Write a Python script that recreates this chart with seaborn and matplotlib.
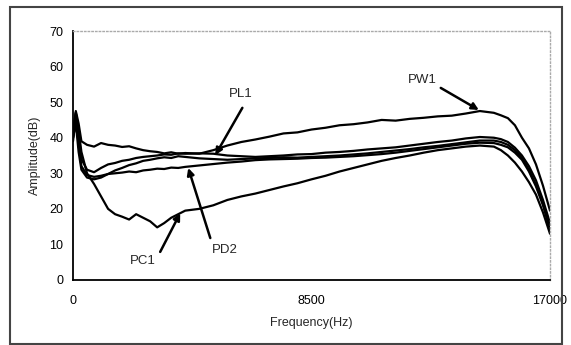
import matplotlib
matplotlib.use("Agg")
from matplotlib import pyplot as plt
from matplotlib.patches import Rectangle
import seaborn as sns

import numpy as np
import pandas as pd

# frequency grid (Hz)
freq = [0, 100, 200, 300, 500, 750,
        1000, 1250, 1500, 1750, 2000, 2250, 2500, 2750, 3000, 3250, 3500, 3750, 4000,
        4500, 5000, 5500, 6000, 6500, 7000, 7500, 8000, 8500, 9000, 9500, 10000,
        10500, 11000, 11500, 12000, 12500, 13000, 13500, 14000, 14500, 15000,
        15250, 15500, 15750, 16000, 16250, 16500, 16750, 17000]

# amplitude (dB) of each recording
pw1 = [41, 47.5, 44, 39, 38, 37.5,
       38.5, 38, 37.8, 37.4, 37.6, 37, 36.5, 36.2, 36, 35.6, 35.9, 35.5, 35.7,
       35.5, 36.5, 37.8, 38.8, 39.5, 40.3, 41.2, 41.5, 42.3, 42.8, 43.5, 43.8,
       44.3, 45, 44.8, 45.3, 45.6, 46, 46.2, 46.8, 47.5, 47,
       46.3, 45.5, 43.5, 40, 37, 32.5, 26.5, 19.5]
pl1 = [42, 47, 41, 34, 31, 30.3,
       31.5, 32.5, 32.9, 33.5, 33.8, 34.3, 34.6, 34.8, 35, 35.3, 35.2, 35.6, 35.5,
       35.6, 35.5, 35, 34.8, 34.6, 34.8, 35, 35.3, 35.4, 35.8, 36, 36.3,
       36.7, 37, 37.3, 37.8, 38.3, 38.8, 39.2, 39.8, 40.2, 40,
       39.6, 38.8, 37.2, 35, 32, 28, 22.5, 16]
pd2 = [39, 45.5, 38, 32, 29.5, 29,
       29.3, 29.8, 30, 30.2, 30.5, 30.3, 30.8, 31, 31.3, 31.2, 31.6, 31.5, 31.8,
       32.2, 32.6, 33, 33.3, 33.7, 33.9, 34, 34.1, 34.3, 34.4, 34.6, 34.8,
       35.1, 35.4, 35.8, 36.3, 36.8, 37.3, 37.8, 38.3, 38.6, 38.5,
       38, 37.3, 35.8, 33.8, 30.5, 26.3, 21, 14.8]
px4 = [40, 44, 36, 31, 28.8, 28.3,
       28.8, 29.8, 30.8, 31.5, 32.3, 32.8, 33.5, 33.8, 34.2, 34.5, 34.3, 34.8, 34.6,
       34.2, 34, 33.8, 34, 34.2, 34.3, 34.5, 34.4, 34.6, 34.8, 35, 35.3,
       35.6, 36, 36.4, 36.8, 37.3, 37.7, 38.2, 38.7, 39.2, 39.2,
       38.8, 38, 36.5, 34.3, 31, 26.8, 21.5, 13.8]
pc1 = [40, 47, 42, 36, 30, 27,
       23.5, 20, 18.5, 17.8, 17, 18.5, 17.5, 16.5, 14.8, 16, 17.5, 18.5, 19.5,
       20, 21, 22.5, 23.5, 24.3, 25.3, 26.3, 27.2, 28.3, 29.3, 30.5, 31.5,
       32.5, 33.5, 34.3, 35, 35.8, 36.5, 37, 37.5, 37.8, 37.5,
       36.5, 35, 33, 30.5, 27.5, 24, 19, 13]

series = {"PW1": pw1, "PL1": pl1, "PD2": pd2, "P4": px4, "PC1": pc1}

df = pd.concat([pd.DataFrame({"Frequency": freq, "Amplitude": v, "Sample": k})
                for k, v in series.items()], ignore_index=True)

sns.set_style("white")
plt.rcParams["font.family"] = ["Liberation Sans", "DejaVu Sans"]

fig = plt.figure(figsize=(5.71, 3.45), dpi=100)
ax = fig.add_axes([73 / 571, 1 - 280 / 345, (550 - 73) / 571, (280 - 31) / 345])

sns.lineplot(data=df, x="Frequency", y="Amplitude", hue="Sample",
             palette=["black"] * len(series), linewidth=1.6, legend=False, ax=ax)

ax.set_xlim(0, 17000)
ax.set_ylim(0, 70)
ax.set_xticks([0, 4250, 8500, 12750, 17000])
ax.set_xticklabels(["0", "", "8500", "", "17000"])
ax.set_yticks(range(0, 71, 10))
ax.tick_params(direction="in", length=3, width=1, labelsize=9, colors="black")
ax.tick_params(axis="x", pad=11)
ax.tick_params(axis="y", pad=7)
ax.set_xlabel("Frequency(Hz)", fontsize=9, labelpad=7)
ax.set_ylabel("Amplitude(dB)", fontsize=9, labelpad=6)

for s in ["left", "bottom"]:
    ax.spines[s].set_color("black")
    ax.spines[s].set_linewidth(1.3)
for s in ["top", "right"]:
    ax.spines[s].set_color("#aaaaaa")
    ax.spines[s].set_linestyle(":")
    ax.spines[s].set_linewidth(1)

arrow = dict(arrowstyle="-|>", lw=1.8, color="black", mutation_scale=10,
             shrinkA=0, shrinkB=0)
labels = [("PL1", (5964, 52.3), (6036, 48.4), (5071, 35.1)),
          ("PW1", (12464, 56.2), (13107, 54.0), (14464, 47.8)),
          ("PD2", (5428, 8.4), (4893, 11.8), (4107, 31.5)),
          ("PC1", (2500, 5.3), (3107, 7.9), (3821, 18.8))]
for name, txt, tail, tip in labels:
    ax.text(txt[0], txt[1], name, fontsize=9.5, ha="center", va="center")
    ax.annotate("", xy=tip, xytext=tail, arrowprops=arrow)

fig.patches.append(Rectangle((10 / 571, 1 / 345), 552 / 571, 337 / 345,
                             transform=fig.transFigure, fill=False,
                             edgecolor="#444444", linewidth=1.5))

fig.savefig("out.png", dpi=100)
